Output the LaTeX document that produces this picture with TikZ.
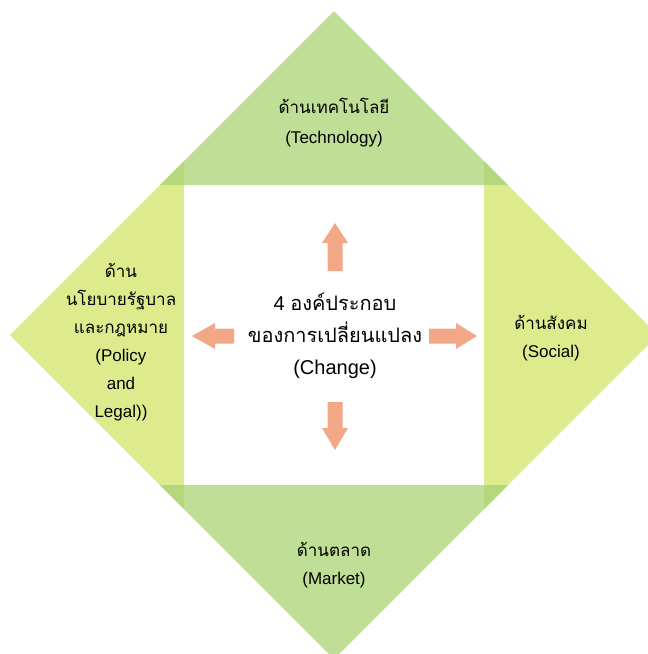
\documentclass[tikz,border=0pt]{standalone}
\usepackage{fontspec}
\setmainfont{Liberation Sans}
\newfontfamily\thaifont[Script=Thai]{Loma}
\usetikzlibrary{positioning}
\definecolor{techgreen}{RGB}{191,222,150}
\definecolor{sidegreen}{RGB}{222,235,141}
\definecolor{cornergreen}{RGB}{180,216,124}
\definecolor{arrowsalmon}{RGB}{242,168,135}
\tikzset{
  topic/.style={
    align=center,
    inner sep=0pt,
    font=\fontsize{17}{28}\selectfont
  },
  centre/.style={
    align=center,
    inner sep=0pt,
    font=\fontsize{20}{32}\selectfont
  },
  blockarrow/.style={fill=arrowsalmon}
}
% fat arrow out of the centre: angle, shaft start, head base, tip
\newcommand{\fatarrow}[4]{%
  \fill[blockarrow, shift={(change.center)}, rotate=#1]
    (#2,-7.5) -- (#3,-7.5) -- (#3,-13) -- (#4,0) -- (#3,13) -- (#3,7.5) -- (#2,7.5) -- cycle;}

\begin{document}
\begin{tikzpicture}[x=1pt, y=-1pt]
  \useasboundingbox (0,0) rectangle (648,654);
  \clip (0,0) rectangle (648,654);

  % the four sides of the diamond
  \fill[techgreen] (334,11) -- (508,185) -- (160,185) -- cycle;
  \fill[techgreen] (334,659) -- (508,485) -- (160,485) -- cycle;
  \fill[sidegreen] (10,335) -- (184,161) -- (184,509) -- cycle;
  \fill[sidegreen] (658,335) -- (484,161) -- (484,509) -- cycle;
  % where they overlap
  \fill[cornergreen] (184,185) -- (184,161) -- (160,185) -- cycle;
  \fill[cornergreen] (484,185) -- (484,161) -- (508,185) -- cycle;
  \fill[cornergreen] (184,485) -- (184,509) -- (160,485) -- cycle;
  \fill[cornergreen] (484,485) -- (484,509) -- (508,485) -- cycle;

  \node[centre] (change) at (335,336)
    {4 {\thaifont องค์ประกอบ}\\{\thaifont ของการเปลี่ยนแปลง}\\(Change)};

  \node[topic, font=\fontsize{17}{30}\selectfont] (tech) at (334,123)
    {{\thaifont ด้านเทคโนโลยี}\\(Technology)};
  \node[topic] (market) at (334,565)
    {{\thaifont ด้านตลาด}\\(Market)};
  \node[topic] (social) at (551,338)
    {{\thaifont ด้านสังคม}\\(Social)};
  \node[topic] (policy) at (121,342)
    {{\thaifont ด้าน}\\{\thaifont นโยบายรัฐบาล}\\{\thaifont และกฎหมาย}\\(Policy\\and\\Legal))};

  \fatarrow{90}{65}{93}{113}
  \fatarrow{270}{66}{92}{114}
  \fatarrow{180}{101}{120}{143}
  \fatarrow{0}{94}{121}{142}
\end{tikzpicture}
\end{document}
